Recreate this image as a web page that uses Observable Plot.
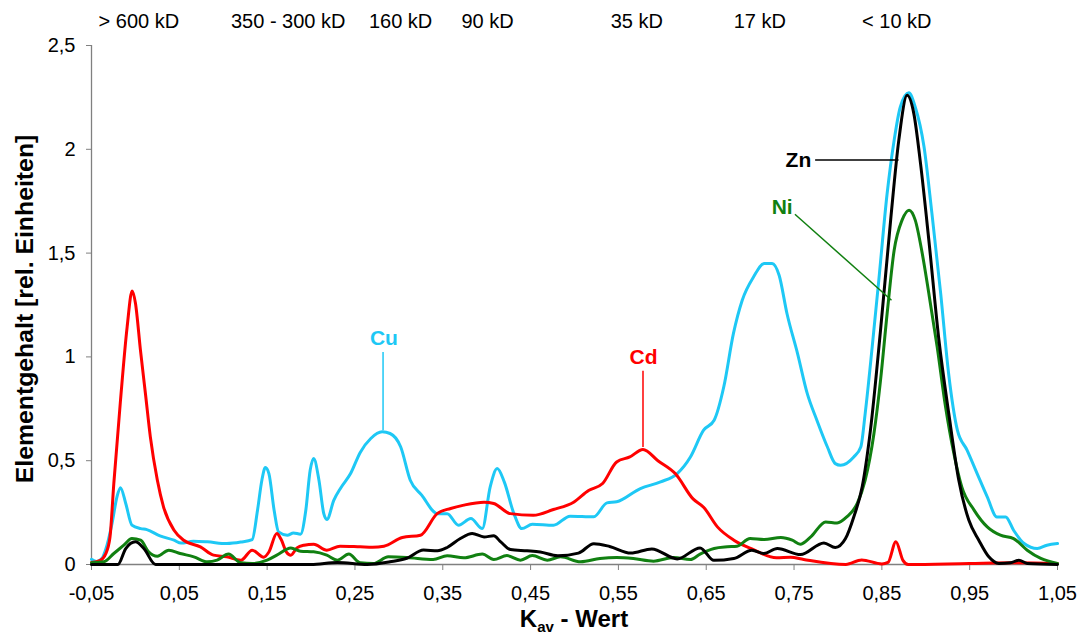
<!DOCTYPE html>
<html>
<head>
<meta charset="utf-8">
<script src="https://cdn.jsdelivr.net/npm/d3@7"></script>
<script src="https://cdn.jsdelivr.net/npm/@observablehq/plot@0.6"></script>
<style>
  html, body { margin: 0; padding: 0; background: white; }
  #chart { width: 1084px; height: 634px; }
</style>
</head>
<body>
<div id="chart"></div>
<script>
// ---- Data ----
const cuX = [-0.05,-0.044,-0.038,-0.034,-0.0265,-0.021,-0.017,-0.011,-0.004,0.006,0.013,0.028,0.044,0.052,0.066,0.082,0.104,0.12,0.133,0.139,0.144,0.148,0.152,0.158,0.163,0.173,0.18,0.188,0.194,0.199,0.203,0.209,0.2145,0.218,0.226,0.234,0.245,0.256,0.268,0.281,0.29,0.302,0.313,0.326,0.344,0.355,0.368,0.382,0.395,0.404,0.412,0.42,0.431,0.44,0.452,0.476,0.495,0.522,0.537,0.548,0.575,0.598,0.617,0.632,0.647,0.659,0.67,0.681,0.691,0.704,0.716,0.725,0.733,0.742,0.754,0.765,0.776,0.788,0.797,0.803,0.818,0.826,0.831,0.839,0.8465,0.856,0.864,0.871,0.8807,0.888,0.898,0.907,0.917,0.926,0.936,0.947,0.9585,0.97,0.981,0.991,1.0,1.012,1.027,1.038,1.05];
const cuY = [0.025,0.015,0.03,0.07,0.2,0.326,0.37,0.294,0.19,0.173,0.168,0.138,0.117,0.103,0.112,0.109,0.101,0.108,0.12,0.26,0.406,0.467,0.438,0.26,0.157,0.141,0.152,0.146,0.26,0.454,0.51,0.406,0.245,0.217,0.31,0.37,0.438,0.54,0.607,0.639,0.631,0.567,0.406,0.334,0.245,0.245,0.189,0.221,0.173,0.374,0.462,0.398,0.245,0.173,0.194,0.189,0.233,0.23,0.297,0.302,0.366,0.398,0.438,0.518,0.647,0.695,0.856,1.113,1.273,1.386,1.45,1.45,1.393,1.208,1.016,0.824,0.695,0.566,0.486,0.478,0.518,0.566,0.727,1.048,1.369,1.787,2.044,2.204,2.272,2.204,2.012,1.691,1.305,0.92,0.647,0.551,0.438,0.326,0.229,0.229,0.165,0.101,0.077,0.093,0.101];

const cdX = [-0.05,-0.04,-0.034,-0.029,-0.0246,-0.017,-0.0094,-0.0037,0.0,0.0058,0.0115,0.017,0.025,0.032,0.044,0.055,0.074,0.089,0.104,0.12,0.133,0.146,0.152,0.161,0.166,0.172,0.177,0.184,0.192,0.203,0.218,0.233,0.256,0.27,0.283,0.304,0.3246,0.3436,0.359,0.374,0.397,0.408,0.427,0.453,0.476,0.499,0.516,0.532,0.548,0.563,0.578,0.595,0.615,0.635,0.647,0.663,0.682,0.702,0.73,0.746,0.761,0.809,0.827,0.85,0.857,0.866,0.874,0.88,0.95,1.0,1.05];
const cdY = [0.01,0.02,0.05,0.13,0.39,0.79,1.145,1.318,1.26,1.03,0.82,0.615,0.406,0.278,0.165,0.117,0.085,0.045,0.037,0.02,0.069,0.035,0.06,0.149,0.12,0.06,0.045,0.08,0.093,0.098,0.069,0.088,0.085,0.083,0.088,0.13,0.141,0.245,0.27,0.286,0.30,0.294,0.245,0.237,0.265,0.30,0.356,0.39,0.494,0.518,0.554,0.50,0.437,0.316,0.276,0.18,0.116,0.075,0.032,0.035,0.024,0.0,0.022,0.003,0.01,0.11,0.02,0.0,0.005,0.008,0.005];

const niX = [-0.05,-0.036,-0.0246,-0.0132,-0.004,0.006,0.015,0.025,0.038,0.051,0.0665,0.082,0.093,0.106,0.12,0.133,0.15,0.161,0.177,0.188,0.203,0.218,0.23,0.243,0.256,0.271,0.288,0.309,0.339,0.355,0.374,0.395,0.408,0.423,0.4385,0.452,0.469,0.484,0.507,0.529,0.548,0.567,0.59,0.613,0.632,0.643,0.659,0.674,0.685,0.7,0.716,0.735,0.748,0.757,0.769,0.786,0.799,0.81,0.822,0.831,0.841,0.8485,0.856,0.864,0.873,0.881,0.888,0.896,0.9035,0.913,0.9225,0.932,0.941,0.955,0.97,0.985,1.0,1.0155,1.031,1.05];
const niY = [0.008,0.013,0.053,0.093,0.125,0.117,0.061,0.04,0.069,0.053,0.037,0.013,0.021,0.05,0.008,0.005,0.021,0.045,0.08,0.064,0.061,0.045,0.021,0.05,0.008,0.005,0.037,0.034,0.024,0.042,0.032,0.05,0.024,0.043,0.021,0.043,0.021,0.037,0.013,0.029,0.034,0.029,0.016,0.034,0.024,0.05,0.077,0.085,0.088,0.125,0.12,0.13,0.117,0.098,0.133,0.205,0.2,0.229,0.294,0.406,0.631,0.888,1.209,1.514,1.659,1.707,1.659,1.498,1.305,1.048,0.76,0.535,0.374,0.262,0.181,0.141,0.125,0.069,0.029,0.005];

const znX = [-0.05,-0.02,-0.011,0.0,0.0096,0.023,0.2,0.23,0.264,0.29,0.309,0.328,0.344,0.355,0.37,0.3835,0.397,0.408,0.416,0.427,0.446,0.461,0.481,0.5045,0.522,0.54,0.564,0.588,0.617,0.643,0.6587,0.6814,0.702,0.7156,0.731,0.7573,0.784,0.797,0.8086,0.818,0.8276,0.837,0.8485,0.86,0.8693,0.8788,0.8864,0.894,0.9035,0.915,0.9262,0.9376,0.949,0.9604,0.9718,0.9832,0.9965,1.006,1.0155,1.05];
const znY = [0,0,0.077,0.109,0.077,0,0,0.01,0,0.013,0.03,0.07,0.066,0.082,0.125,0.149,0.133,0.138,0.109,0.072,0.066,0.06,0.042,0.055,0.1,0.087,0.055,0.075,0.027,0.08,0.02,0.029,0.069,0.053,0.077,0.048,0.104,0.082,0.125,0.229,0.374,0.647,1.129,1.659,2.044,2.26,2.172,1.932,1.562,1.08,0.727,0.406,0.214,0.117,0.037,0.005,0.008,0.021,0.005,0];

const xTicks = [-0.05,0.05,0.15,0.25,0.35,0.45,0.55,0.65,0.75,0.85,0.95,1.05];
const xTickLabels = ["-0,05","0,05","0,15","0,25","0,35","0,45","0,55","0,65","0,75","0,85","0,95","1,05"];
const yTicks = [0,0.5,1,1.5,2,2.5];
const yTickLabels = ["0","0,5","1","1,5","2","2,5"];

const kdLabels = ["> 600 kD","350 - 300 kD","160 kD","90 kD","35 kD","17 kD","< 10 kD"];
const kdX = [0.004,0.174,0.302,0.401,0.571,0.711,0.867];

const elemNames = ["Cu","Cd","Zn","Ni"];
const elemColors = ["#1ec8f5","#ff0000","#000000","#118011"];
const elemLabelX = [0.283,0.5786,0.755,0.7365];
const elemLabelY = [1.09,1.0,1.948,1.723];
const leaderX1 = [0.282,0.578,0.774,0.751];
const leaderY1 = [1.024,0.933,1.948,1.687];
const leaderX2 = [0.282,0.578,0.869,0.861];
const leaderY2 = [0.647,0.566,1.948,1.273];

const yTitle = "Elementgehalt [rel. Einheiten]";

// ---- Build tables ----
const toRows = (xs, ys) => xs.map((x, i) => ({x, y: ys[i]}));
const series = [
  {rows: toRows(cuX, cuY), color: elemColors[0]},
  {rows: toRows(cdX, cdY), color: elemColors[1]},
  {rows: toRows(niX, niY), color: elemColors[3]},
  {rows: toRows(znX, znY), color: elemColors[2]}
];
const axisGray = "#808080";
const font = "'Liberation Sans', Arial, Helvetica, sans-serif";

const marks = [
  Plot.ruleY([0], {stroke: axisGray, strokeWidth: 1.3}),
  Plot.ruleX([-0.05], {stroke: axisGray, strokeWidth: 1.3}),
  Plot.axisX({ticks: xTicks, tickFormat: d => xTickLabels[xTicks.indexOf(d)], tickSize: 6, tickPadding: 15, label: null, stroke: axisGray, fill: "black", fontSize: 20}),
  Plot.axisY({ticks: yTicks, tickFormat: d => yTickLabels[yTicks.indexOf(d)], tickSize: 5, tickPadding: 11, label: null, stroke: axisGray, fill: "black", fontSize: 20}),
  Plot.text(kdLabels, {x: (d, i) => kdX[i], text: d => d, frameAnchor: "top", dy: -32, fontSize: 20, fill: "black"})
];
for (const s of series) {
  marks.push(Plot.line(s.rows, {x: "x", y: "y", stroke: s.color, strokeWidth: 3, curve: "monotone-x"}));
}
elemNames.forEach((name, i) => {
  marks.push(Plot.link([i], {x1: () => leaderX1[i], y1: () => leaderY1[i], x2: () => leaderX2[i], y2: () => leaderY2[i], stroke: elemColors[i], strokeWidth: 1.5}));
  marks.push(Plot.text([name], {x: () => elemLabelX[i], y: () => elemLabelY[i], text: d => d, fill: elemColors[i], fontWeight: "bold", fontSize: 21}));
});

const svg = Plot.plot({
  width: 1084,
  height: 634,
  marginTop: 45,
  marginBottom: 70,
  marginLeft: 91,
  marginRight: 27,
  style: {fontFamily: font, fontSize: "20px", background: "white", color: "black", overflow: "visible"},
  x: {domain: [-0.05, 1.05]},
  y: {domain: [0, 2.5]},
  marks
});

// axis titles
const s = d3.select(svg);
s.append("text")
  .attr("transform", "translate(24,309) rotate(-90)")
  .attr("text-anchor", "middle")
  .attr("dominant-baseline", "central")
  .attr("font-family", font)
  .attr("font-weight", "bold")
  .attr("font-size", 24.8)
  .attr("fill", "black")
  .text(yTitle);
const xt = s.append("text")
  .attr("x", 574).attr("y", 627)
  .attr("text-anchor", "middle")
  .attr("font-family", font)
  .attr("font-weight", "bold")
  .attr("font-size", 24)
  .attr("fill", "black");
xt.append("tspan").text("K");
xt.append("tspan").attr("font-size", 15).attr("dy", 5).text("av");
xt.append("tspan").attr("dy", -5).text(" - Wert");

document.getElementById("chart").appendChild(svg);
</script>
</body>
</html>
